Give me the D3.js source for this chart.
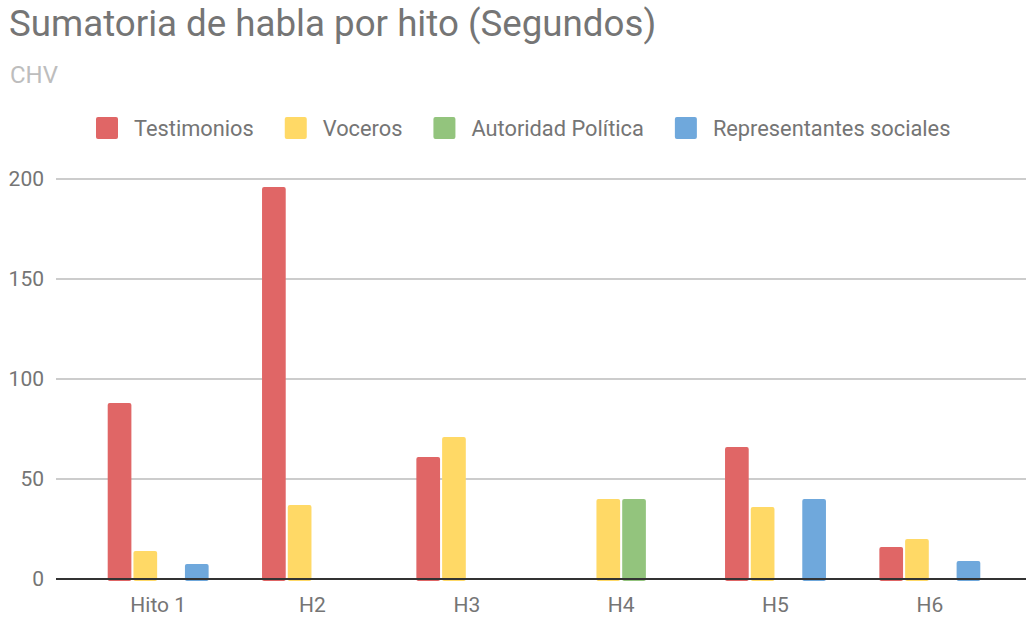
<!DOCTYPE html>
<html>
<head>
<meta charset="utf-8">
<script src="https://cdn.jsdelivr.net/npm/d3@7"></script>
<style>
  html, body { margin: 0; padding: 0; background: #fff; }
  svg { display: block; font-family: Roboto, sans-serif; }
</style>
</head>
<body>
<div id="chart"></div>
<script>
// data
const categories = ['Hito 1', 'H2', 'H3', 'H4', 'H5', 'H6'];
const seriesNames = ['Testimonios', 'Voceros', 'Autoridad Política', 'Representantes sociales'];
const testimonios = [88, 196, 61, 0, 66, 16];
const voceros = [14, 37, 71, 40, 36, 20];
const autoridad = [0, 0, 0, 40, 0, 0];
const representantes = [7.5, 0, 0, 0, 40, 9];
const yTicks = [0, 50, 100, 150, 200];

const colors = ['#e06666', '#ffd966', '#93c47d', '#6fa8dc'];
const seriesValues = [testimonios, voceros, autoridad, representantes];

const width = 1026, height = 618;
const plot = { left: 56, right: 1026, top: 179, bottom: 579 };

const svg = d3.select('#chart').append('svg')
    .attr('width', width)
    .attr('height', height);

// title + subtitle
svg.append('text')
    .attr('x', 9).attr('y', 36)
    .style('font-size', '36.7px')
    .style('fill', '#757575')
    .text('Sumatoria de habla por hito (Segundos)');

svg.append('text')
    .attr('x', 10).attr('y', 83)
    .style('font-size', '24px')
    .style('fill', '#bdbdbd')
    .text('CHV');

// legend, laid out left to right
const legend = svg.append('g').attr('class', 'legend');
let lx = 96;
seriesNames.forEach((name, i) => {
    legend.append('rect')
        .attr('x', lx).attr('y', 117)
        .attr('width', 22).attr('height', 22)
        .attr('rx', 2)
        .style('fill', colors[i]);
    const t = legend.append('text')
        .attr('x', lx + 38).attr('y', 136)
        .style('font-size', '21.8px')
        .style('fill', '#757575')
        .text(name);
    lx = lx + 38 + t.node().getComputedTextLength() + 31;
});

// scales
const x0 = d3.scaleBand()
    .domain(categories)
    .range([81, 1007])
    .paddingInner(0.346)
    .paddingOuter(0.173);

const x1 = d3.scaleBand()
    .domain(seriesNames)
    .range([0, x0.bandwidth()])
    .paddingInner(0.08);

const y = d3.scaleLinear()
    .domain([0, 200])
    .range([plot.bottom, plot.top]);

// gridlines
svg.append('g').attr('class', 'grid')
    .selectAll('line')
    .data(yTicks.filter(d => d !== 0))
    .join('line')
    .attr('x1', plot.left).attr('x2', plot.right)
    .attr('y1', d => y(d)).attr('y2', d => y(d))
    .style('stroke', '#cccccc')
    .style('stroke-width', 2);

// y axis labels
const yAxis = svg.append('g')
    .attr('transform', 'translate(44,0)')
    .call(d3.axisLeft(y).tickValues(yTicks).tickSize(0).tickPadding(0));
yAxis.select('.domain').remove();
yAxis.selectAll('text')
    .style('font-family', 'Roboto, sans-serif')
    .style('font-size', '21px')
    .style('fill', '#757575');

// bars
const rows = categories.map((c, i) => ({ cat: c, vals: seriesNames.map((s, j) => ({ s, j, v: seriesValues[j][i] })) }));

const groups = svg.append('g').attr('class', 'bars')
    .selectAll('g')
    .data(rows)
    .join('g')
    .attr('transform', d => `translate(${x0(d.cat)},0)`);

groups.selectAll('rect')
    .data(d => d.vals.filter(v => v.v > 0))
    .join('rect')
    .attr('x', d => x1(d.s))
    .attr('width', x1.bandwidth())
    .attr('y', d => y(d.v))
    .attr('height', d => y(0) - y(d.v) + 2)
    .attr('rx', 2)
    .style('fill', d => colors[d.j]);

// baseline
svg.append('line')
    .attr('x1', plot.left).attr('x2', plot.right)
    .attr('y1', y(0)).attr('y2', y(0))
    .style('stroke', '#333333')
    .style('stroke-width', 2);

// x axis labels
const xAxis = svg.append('g')
    .attr('transform', `translate(0,${plot.bottom})`)
    .call(d3.axisBottom(x0).tickSize(0).tickPadding(18));
xAxis.select('.domain').remove();
xAxis.selectAll('text')
    .style('font-family', 'Roboto, sans-serif')
    .style('font-size', '21px')
    .style('fill', '#757575');
</script>
</body>
</html>
